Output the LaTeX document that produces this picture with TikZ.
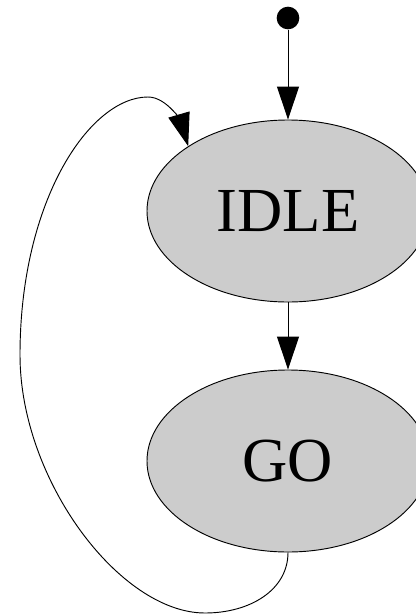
\documentclass[tikz,border=0pt]{standalone}
\usepackage{fontspec}
\setmainfont{Liberation Serif}
\usetikzlibrary{arrows.meta,shapes.geometric}
\definecolor{stategray}{HTML}{CCCCCC}

\begin{document}
\begin{tikzpicture}[x=0.75pt,y=-0.75pt,
    state/.style={ellipse,draw,line width=0.7pt,fill=stategray,inner sep=0pt,
      minimum width=211.5pt,minimum height=136.5pt,font=\fontsize{47}{56}\selectfont},
    edge/.style={line width=0.7pt,-{Triangle[length=24.75pt,width=16.5pt]}}]
  \useasboundingbox (0,0) rectangle (416,615);
  \draw
    (288,18) node[circle,fill,inner sep=0pt,minimum size=17pt] (start){}
    (288,211) node[state] (idle){IDLE}
    (288,461) node[state] (go){GO};
  \begin{scope}[edge]
    \draw (start) to (idle);
    \draw (idle) to (go);
    \draw (go.south) .. controls (288,590) and (250,613) .. (205,613)
      .. controls (120,613) and (20,480) .. (20,355)
      .. controls (20,200) and (90,97) .. (148,97)
      .. controls (168,97) and (182,125) .. (idle.147);
  \end{scope}
\end{tikzpicture}
\end{document}
